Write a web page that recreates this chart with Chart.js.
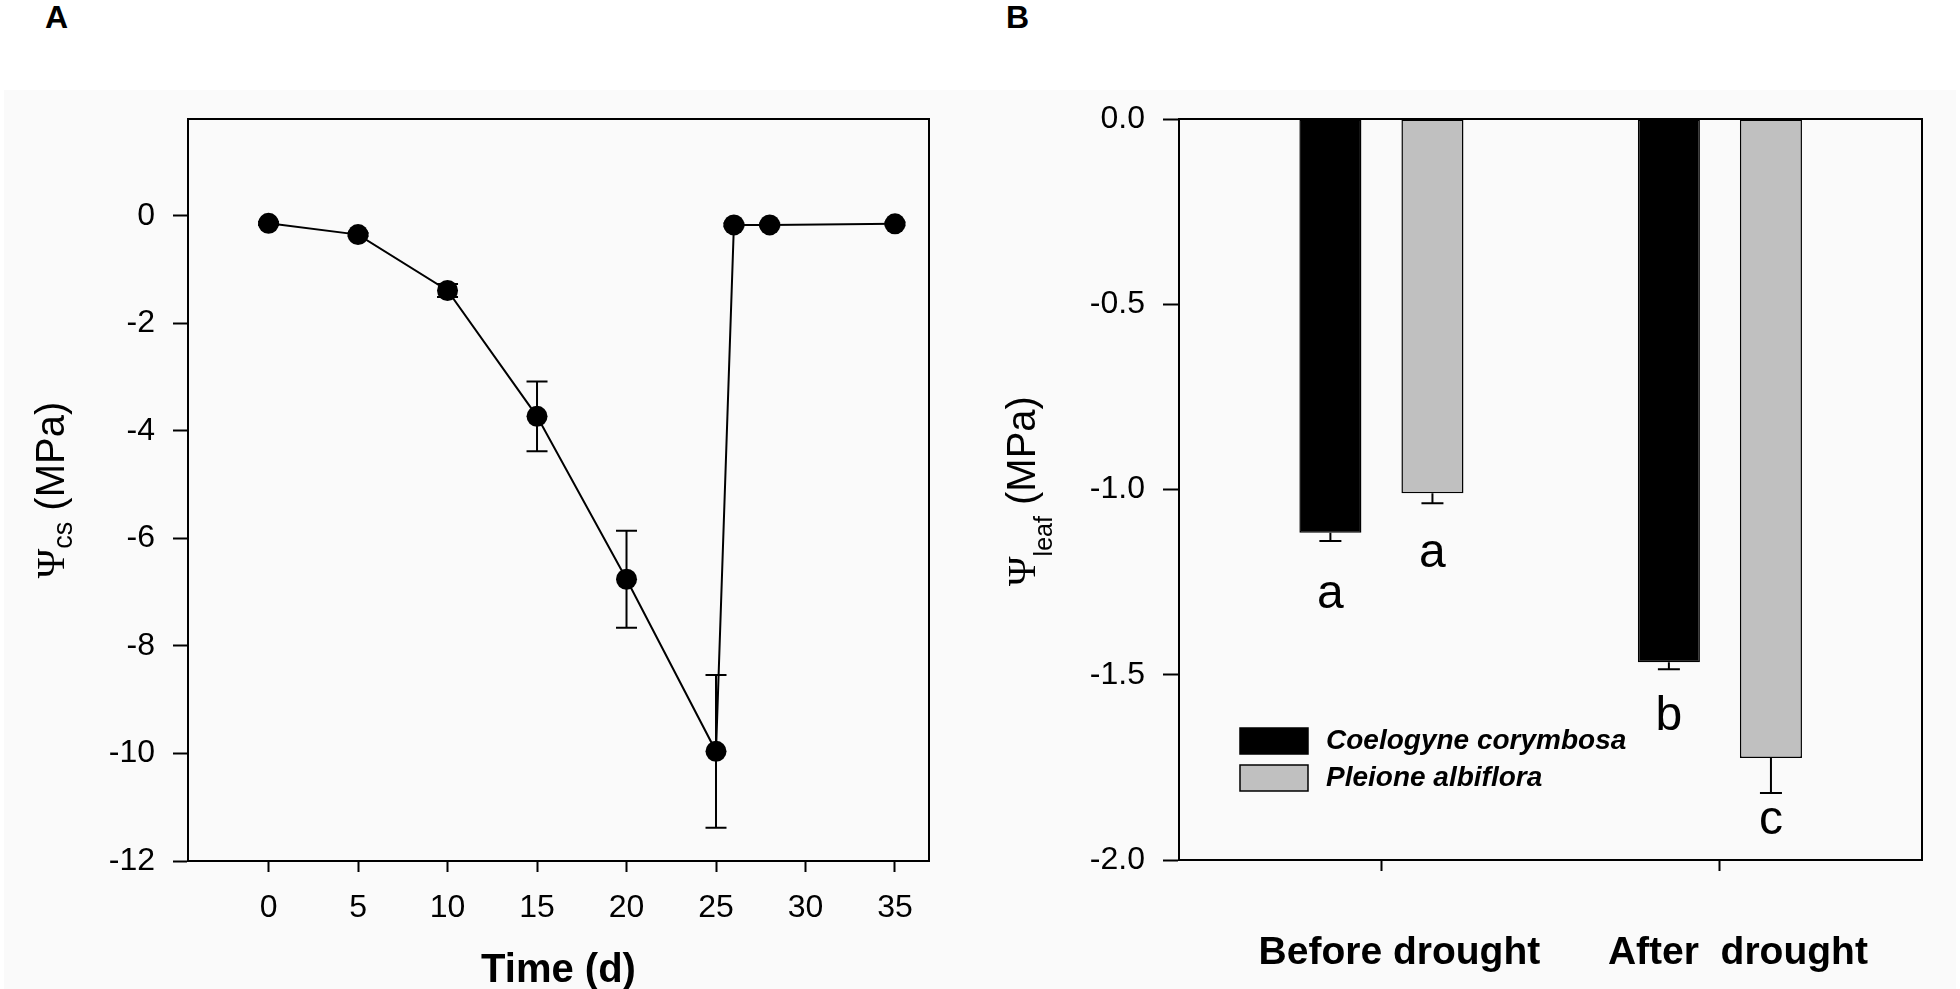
<!DOCTYPE html>
<html>
<head>
<meta charset="utf-8">
<script src="https://cdn.jsdelivr.net/npm/chart.js@4.4.1/dist/chart.umd.min.js"></script>
<style>
    html, body { margin: 0; padding: 0; background: #fff; }
    #page { position: relative; width: 1960px; height: 989px; overflow: hidden; background: #fff; }
    #bg { position: absolute; left: 4px; top: 90px; right: 4px; bottom: 0; background: #fafafa; }
    .panel { position: absolute; top: 0; width: 980px; height: 989px; }
    .tag { position: absolute; top: 1px; font: bold 32px "Liberation Sans", Arial, sans-serif; line-height: 1; color: #000; }
</style>
</head>
<body>
<div id="page">
    <div id="bg"></div>
    <div class="tag" style="left:45px">A</div>
    <div class="tag" style="left:1006px">B</div>
    <canvas id="chartA" class="panel" style="left:0" width="980" height="989"></canvas>
    <canvas id="chartB" class="panel" style="left:980px" width="980" height="989"></canvas>
</div>
<script>
// ---- panel A : water potential over the drought / rewatering time course
var days = [0, 5, 10, 15, 20, 25, 26, 28, 35];
var psiCs = [-0.14, -0.35, -1.39, -3.73, -6.76, -9.96, -0.17, -0.17, -0.15];
var psiCsErr = [0.03, 0.03, 0.12, 0.65, 0.9, 1.42, 0.03, 0.03, 0.03];
var dayTicks = [0, 5, 10, 15, 20, 25, 30, 35];
var psiCsTicks = [0, -2, -4, -6, -8, -10, -12];

// ---- panel B : leaf water potential before / after drought
var periods = ['Before drought', 'After  drought'];
var speciesNames = ['Coelogyne corymbosa', 'Pleione albiflora'];
var coelogyneLeaf = [-1.117, -1.466];
var coelogyneErr = [0.022, 0.019];
var pleioneLeaf = [-1.01, -1.725];
var pleioneErr = [0.027, 0.094];
var coelogyneLetters = ['a', 'b'];
var pleioneLetters = ['a', 'c'];
var coelogyneLetterAt = [-1.32, -1.65];
var pleioneLetterAt = [-1.21, -1.93];
var leafTicks = [0, -0.5, -1.0, -1.5, -2.0];

var SANS = '"Liberation Sans", Arial, sans-serif';
Chart.defaults.font.family = SANS;
Chart.defaults.color = '#000';

/**
 * рамка вокруг области графика
 */
var framePlugin = {
    id: 'frame',
    afterDraw: function (chart) {
        var a = chart.chartArea, ctx = chart.ctx;
        ctx.save();
        ctx.lineWidth = 2;
        ctx.strokeStyle = '#000';
        ctx.strokeRect(a.left, a.top, a.right - a.left, a.bottom - a.top);
        ctx.restore();
    }
};

/**
 * подпись оси Y вида  Ψ<sub>..</sub> (MPa), повернутая на 90°
 */
function drawPsiTitle(ctx, baseX, midY, sub, subShift, subSize) {
    var psiFont = '40px "Liberation Serif", "Times New Roman", serif';
    var subFont = subSize + 'px ' + SANS;
    var mainFont = '40px ' + SANS;
    ctx.save();
    ctx.translate(baseX, midY);
    ctx.rotate(-Math.PI / 2);
    ctx.fillStyle = '#000';
    ctx.textAlign = 'left';
    ctx.textBaseline = 'alphabetic';
    ctx.font = psiFont;
    var w1 = ctx.measureText('Ψ').width;
    ctx.font = subFont;
    var w2 = ctx.measureText(sub).width;
    ctx.font = mainFont;
    var w3 = ctx.measureText(' (MPa)').width;
    var x = -(w1 + w2 + w3) / 2;
    ctx.font = psiFont;
    ctx.fillText('Ψ', x, 0);
    x += w1;
    ctx.font = subFont;
    ctx.fillText(sub, x, subShift);
    x += w2;
    ctx.font = mainFont;
    ctx.fillText(' (MPa)', x, 0);
    ctx.restore();
}

function axisStyle(tickLen) {
    return {
        border: { display: true, color: '#000', width: 2 },
        grid: { drawOnChartArea: false, offset: false, tickLength: tickLen, tickColor: '#000', tickWidth: 2 }
    };
}

// ---------------- panel A
var pointsA = [];
for (var i = 0; i < days.length; i++) {
    pointsA.push({ x: days[i], y: psiCs[i] });
}

var errorBarsA = {
    id: 'errorBarsA',
    afterDatasetsDraw: function (chart) {
        var ctx = chart.ctx, ys = chart.scales.y;
        var pts = chart.getDatasetMeta(0).data;
        ctx.save();
        ctx.strokeStyle = '#000';
        ctx.lineWidth = 2;
        for (var i = 0; i < pts.length; i++) {
            var x = pts[i].x;
            var top = ys.getPixelForValue(psiCs[i] + psiCsErr[i]);
            var bot = ys.getPixelForValue(psiCs[i] - psiCsErr[i]);
            ctx.beginPath();
            ctx.moveTo(x, top); ctx.lineTo(x, bot);
            ctx.moveTo(x - 10.5, top); ctx.lineTo(x + 10.5, top);
            ctx.moveTo(x - 10.5, bot); ctx.lineTo(x + 10.5, bot);
            ctx.stroke();
        }
        ctx.restore();
    },
    afterDraw: function (chart) {
        drawPsiTitle(chart.ctx, 64, 490, 'cs', 8, 27);
    }
};

var xA = axisStyle(11);
xA.type = 'linear';
xA.min = -4.5;
xA.max = 36.9;
xA.afterBuildTicks = function (s) { s.ticks = dayTicks.map(function (v) { return { value: v }; }); };
xA.afterFit = function (s) { s.height = 128; };
xA.ticks = { font: { size: 32 }, padding: 17, maxRotation: 0, autoSkip: false, callback: function (v) { return String(v); } };
xA.title = { display: true, text: 'Time (d)', font: { size: 40, weight: 'bold', lineHeight: 0.9 }, padding: 0 };

var yA = axisStyle(15);
yA.type = 'linear';
yA.min = -12;
yA.max = 1.8;
yA.afterBuildTicks = function (s) { s.ticks = psiCsTicks.map(function (v) { return { value: v }; }); };
yA.afterFit = function (s) { s.width = 188; };
yA.ticks = { font: { size: 32 }, padding: 18, autoSkip: false, callback: function (v) { return String(v); } };

new Chart(document.getElementById('chartA'), {
    type: 'line',
    data: {
        datasets: [{
            data: pointsA,
            borderColor: '#000',
            borderWidth: 2,
            backgroundColor: '#000',
            pointRadius: 10.5,
            pointBackgroundColor: '#000',
            pointBorderWidth: 0,
            tension: 0
        }]
    },
    options: {
        responsive: false,
        animation: false,
        devicePixelRatio: 1,
        layout: { padding: { top: 119, right: 51, left: 0, bottom: 0 } },
        plugins: { legend: { display: false }, tooltip: { enabled: false } },
        scales: { x: xA, y: yA }
    },
    plugins: [framePlugin, errorBarsA]
});

// ---------------- panel B
var seriesB = [
    { name: speciesNames[0], values: coelogyneLeaf, errs: coelogyneErr, letters: coelogyneLetters, letterAt: coelogyneLetterAt, color: '#000' },
    { name: speciesNames[1], values: pleioneLeaf, errs: pleioneErr, letters: pleioneLetters, letterAt: pleioneLetterAt, color: '#c0c0c0' }
];

var datasetsB = seriesB.map(function (s) {
    return {
        label: s.name,
        data: periods.map(function (p, i) { return { x: i + 1, y: s.values[i] }; }),
        backgroundColor: s.color,
        borderColor: '#000',
        borderWidth: 1.5,
        borderSkipped: false,
        categoryPercentage: 0.603,
        barPercentage: 0.608
    };
});

var extrasB = {
    id: 'extrasB',
    afterDatasetsDraw: function (chart) {
        var ctx = chart.ctx, ys = chart.scales.y;
        ctx.save();
        for (var d = 0; d < seriesB.length; d++) {
            var s = seriesB[d];
            var bars = chart.getDatasetMeta(d).data;
            for (var i = 0; i < bars.length; i++) {
                var x = bars[i].x;
                var end = ys.getPixelForValue(s.values[i]);
                var err = ys.getPixelForValue(s.values[i] - s.errs[i]);
                ctx.strokeStyle = '#000';
                ctx.lineWidth = 2;
                ctx.beginPath();
                ctx.moveTo(x, end); ctx.lineTo(x, err);
                ctx.moveTo(x - 11, err); ctx.lineTo(x + 11, err);
                ctx.stroke();

                ctx.fillStyle = '#000';
                ctx.font = '48px ' + SANS;
                ctx.textAlign = 'center';
                ctx.textBaseline = 'alphabetic';
                ctx.fillText(s.letters[i], x, ys.getPixelForValue(s.letterAt[i]));
            }
        }
        ctx.restore();
    },
    afterDraw: function (chart) {
        var ctx = chart.ctx;
        ctx.save();
        for (var d = 0; d < seriesB.length; d++) {
            var top = 728 + d * 37;
            ctx.fillStyle = seriesB[d].color;
            ctx.fillRect(260, top, 68, 26);
            ctx.strokeStyle = '#000';
            ctx.lineWidth = 1.5;
            ctx.strokeRect(260, top, 68, 26);
            ctx.fillStyle = '#000';
            ctx.font = 'italic bold 28px ' + SANS;
            ctx.textAlign = 'left';
            ctx.textBaseline = 'middle';
            ctx.fillText(seriesB[d].name, 346, top + 13);
        }
        ctx.restore();
        drawPsiTitle(chart.ctx, 55, 491, 'leaf', 17, 25);
    }
};

var xB = axisStyle(11);
xB.type = 'linear';
xB.offset = false;
xB.min = 0.402;
xB.max = 2.597;
xB.afterBuildTicks = function (s) { s.ticks = periods.map(function (p, i) { return { value: i + 1 }; }); };
xB.afterFit = function (s) { s.height = 129; };
xB.ticks = { font: { size: 39, weight: 'bold' }, padding: 59, labelOffset: 18, maxRotation: 0, autoSkip: false,
    callback: function (v) { return periods[v - 1]; } };

var yB = axisStyle(16);
yB.type = 'linear';
yB.min = -2;
yB.max = 0;
yB.afterBuildTicks = function (s) { s.ticks = leafTicks.map(function (v) { return { value: v }; }); };
yB.afterFit = function (s) { s.width = 199; };
yB.ticks = { font: { size: 32 }, padding: 18, autoSkip: false, callback: function (v) { return v.toFixed(1); } };

new Chart(document.getElementById('chartB'), {
    type: 'bar',
    data: { datasets: datasetsB },
    options: {
        responsive: false,
        animation: false,
        devicePixelRatio: 1,
        layout: { padding: { top: 119, right: 38, left: 0, bottom: 0 } },
        plugins: { legend: { display: false }, tooltip: { enabled: false } },
        scales: { x: xB, y: yB }
    },
    plugins: [framePlugin, extrasB]
});
</script>
</body>
</html>
